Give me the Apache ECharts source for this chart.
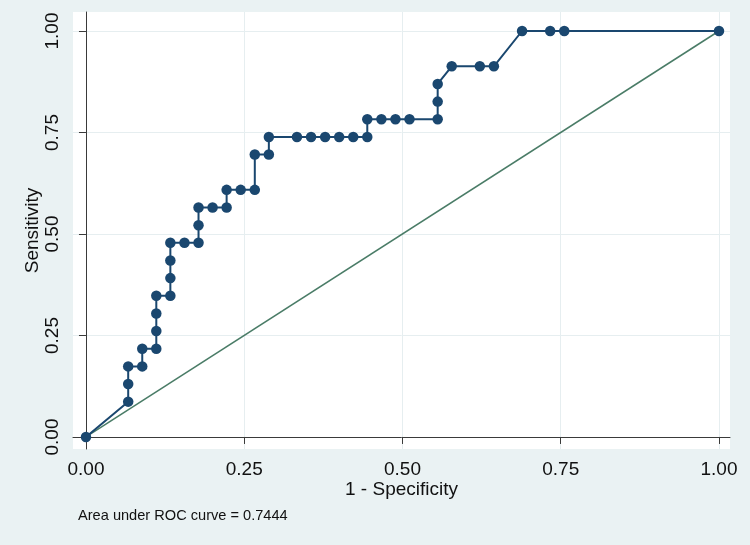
<!DOCTYPE html>
<html>
<head>
<meta charset="utf-8">
<script src="https://cdn.jsdelivr.net/npm/echarts@6/dist/echarts.min.js"></script>
<style>
html,body{margin:0;padding:0;background:#eaf2f3;}
#chart{width:750px;height:545px;}
</style>
</head>
<body>
<div id="chart"></div>
<script>
// ROC curve points (1 - Specificity, Sensitivity)
var oneMinusSpecificity = [0, 0.0667, 0.0667, 0.0667, 0.0889, 0.0889, 0.1111, 0.1111, 0.1111, 0.1111,
  0.1333, 0.1333, 0.1333, 0.1333, 0.1556, 0.1778, 0.1778, 0.1778, 0.2000, 0.2222,
  0.2222, 0.2444, 0.2667, 0.2667, 0.2889, 0.2889, 0.3333, 0.3556, 0.3778, 0.4000,
  0.4222, 0.4444, 0.4444, 0.4667, 0.4889, 0.5111, 0.5556, 0.5556, 0.5556, 0.5778,
  0.6222, 0.6444, 0.6889, 0.7333, 0.7556, 1.0];
var sensitivity = [0, 0.0870, 0.1304, 0.1739, 0.1739, 0.2174, 0.2174, 0.2609, 0.3043, 0.3478,
  0.3478, 0.3913, 0.4348, 0.4783, 0.4783, 0.4783, 0.5217, 0.5652, 0.5652, 0.5652,
  0.6087, 0.6087, 0.6087, 0.6957, 0.6957, 0.7391, 0.7391, 0.7391, 0.7391, 0.7391,
  0.7391, 0.7391, 0.7826, 0.7826, 0.7826, 0.7826, 0.7826, 0.8261, 0.8696, 0.9130,
  0.9130, 0.9130, 1.0, 1.0, 1.0, 1.0];
var referenceX = [0, 1];
var referenceY = [0, 1];
var tickValues = [0, 0.25, 0.5, 0.75, 1];
var tickLabels = ['0.00', '0.25', '0.50', '0.75', '1.00'];
var xTitle = '1 - Specificity';
var yTitle = 'Sensitivity';
var noteText = 'Area under ROC curve = 0.7444';

var rocData = oneMinusSpecificity.map(function (x, i) { return [x, sensitivity[i]]; });
var refData = referenceX.map(function (x, i) { return [x, referenceY[i]]; });
function fmt(v) {
  for (var i = 0; i < tickValues.length; i++) {
    if (Math.abs(tickValues[i] - v) < 1e-6) return tickLabels[i];
  }
  return '';
}

var chart = echarts.init(document.getElementById('chart'), null, {renderer: 'canvas'});
var font = 'Liberation Sans, Arial, sans-serif';
var axisCommon = {
  type: 'value',
  axisLine: {show: true, lineStyle: {color: '#3a3a3a', width: 1}},
  axisTick: {show: true, length: 7, inside: false, customValues: tickValues, lineStyle: {color: '#3a3a3a', width: 1}},
  splitLine: {show: true, lineStyle: {color: '#e6eef0', width: 1}},
  axisLabel: {customValues: tickValues, formatter: fmt, color: '#111', fontFamily: font, fontSize: 19},
  nameLocation: 'middle',
  nameMoveOverlap: false,
  nameTextStyle: {color: '#111', fontFamily: font, fontSize: 19}
};

chart.setOption({
  animation: false,
  backgroundColor: '#eaf2f3',
  title: {
    text: noteText, left: 73, top: 503,
    textStyle: {fontFamily: font, fontSize: 14.6, fontWeight: 'normal', color: '#111'}
  },
  grid: {left: 73, right: 20, top: 12, bottom: 96, show: true, backgroundColor: '#ffffff', borderWidth: 0},
  xAxis: echarts.util.merge({
    min: -0.0205, max: 1.0174,
    name: xTitle, nameGap: 31,
    axisLabel: {margin: 11}
  }, axisCommon),
  yAxis: echarts.util.merge({
    min: -0.0296, max: 1.0468,
    name: yTitle, nameGap: 31, nameRotate: 90,
    axisLabel: {margin: 11, rotate: 90}
  }, axisCommon),
  series: [
    {
      type: 'line', data: refData, showSymbol: false, silent: true,
      lineStyle: {color: '#4a7c67', width: 1.5}, z: 2
    },
    {
      type: 'line', data: rocData, symbol: 'circle', symbolSize: 10.5, showSymbol: true,
      itemStyle: {color: '#1a476f', borderWidth: 0},
      lineStyle: {color: '#1a476f', width: 2}, z: 3
    }
  ]
});
</script>
</body>
</html>
